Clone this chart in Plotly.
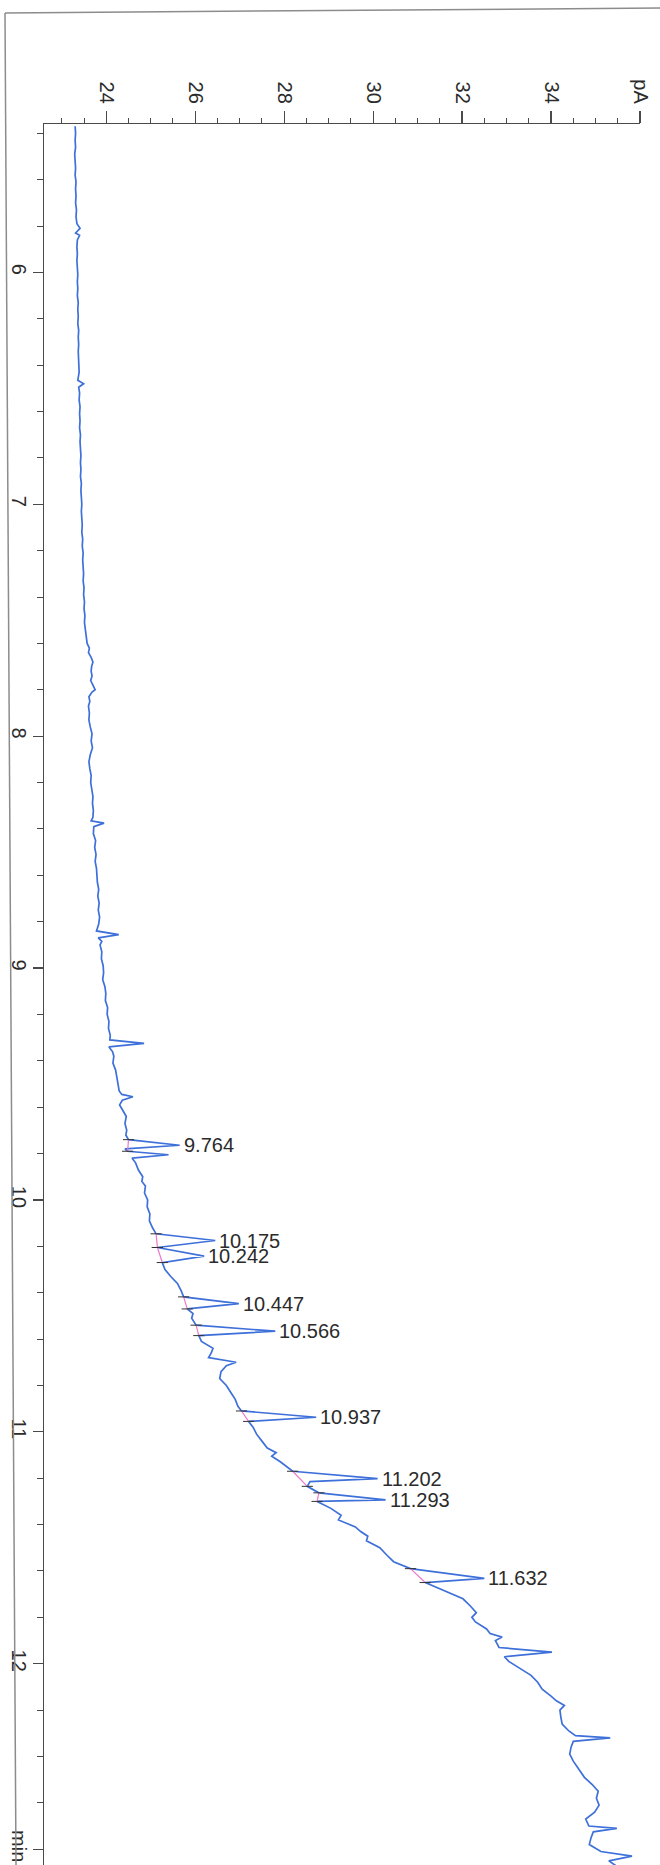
import plotly.graph_objects as go

# ---------------- data ----------------
time_min = [5.37, 5.40, 5.43, 5.46, 5.49, 5.52, 5.55, 5.58, 5.61, 5.64, 5.67, 5.70, 5.73, 5.76, 5.79,
            5.81, 5.82, 5.83, 5.84, 5.86, 5.89, 5.92, 5.95, 5.98, 6.01, 6.04, 6.07, 6.10, 6.13, 6.16,
            6.19, 6.22, 6.25, 6.28, 6.31, 6.34, 6.37, 6.40, 6.43, 6.465, 6.48, 6.495, 6.52, 6.55, 6.58,
            6.61, 6.64, 6.67, 6.70, 6.73, 6.76, 6.79, 6.82, 6.85, 6.88, 6.91, 6.94, 6.97, 7.00, 7.03,
            7.06, 7.09, 7.12, 7.15, 7.18, 7.21, 7.24, 7.27, 7.30, 7.33, 7.36, 7.39, 7.42, 7.45, 7.48,
            7.51, 7.54, 7.57, 7.60, 7.62, 7.64, 7.66, 7.68, 7.70, 7.72, 7.74, 7.76, 7.78, 7.80, 7.81,
            7.83, 7.85, 7.87, 7.90, 7.93, 7.96, 7.99, 8.02, 8.05, 8.08, 8.11, 8.14, 8.17, 8.20, 8.23,
            8.26, 8.29, 8.32, 8.35, 8.365, 8.375, 8.39, 8.42, 8.45, 8.48, 8.51, 8.54, 8.57, 8.60, 8.63,
            8.66, 8.69, 8.72, 8.75, 8.78, 8.81, 8.84, 8.856, 8.87, 8.885, 8.90, 8.93, 8.96, 8.99, 9.02,
            9.05, 9.08, 9.11, 9.14, 9.17, 9.20, 9.23, 9.26, 9.29, 9.31, 9.325, 9.34, 9.36, 9.38, 9.41,
            9.44, 9.47, 9.50, 9.53, 9.545, 9.555, 9.57, 9.59, 9.61, 9.64, 9.67, 9.70, 9.72, 9.74, 9.764,
            9.78, 9.79, 9.805, 9.82, 9.84, 9.87, 9.90, 9.92, 9.94, 9.97, 10.00, 10.03, 10.06, 10.09, 10.12,
            10.146, 10.175, 10.205, 10.242, 10.27, 10.30, 10.33, 10.36, 10.39, 10.418, 10.447, 10.47, 10.49, 10.51, 10.54,
            10.566, 10.585, 10.61, 10.64, 10.66, 10.68, 10.70, 10.715, 10.74, 10.77, 10.80, 10.83, 10.86, 10.89, 10.91,
            10.937, 10.955, 10.98, 11.01, 11.04, 11.07, 11.09, 11.105, 11.13, 11.15, 11.17, 11.202, 11.215, 11.235, 11.25,
            11.263, 11.293, 11.30, 11.33, 11.36, 11.38, 11.41, 11.43, 11.45, 11.47, 11.50, 11.53, 11.56, 11.59, 11.632,
            11.65, 11.68, 11.70, 11.72, 11.75, 11.78, 11.80, 11.82, 11.85, 11.87, 11.885, 11.90, 11.93, 11.95, 11.97,
            11.99, 12.02, 12.05, 12.08, 12.11, 12.14, 12.16, 12.18, 12.20, 12.23, 12.26, 12.29, 12.31, 12.32, 12.335,
            12.36, 12.39, 12.42, 12.46, 12.49, 12.52, 12.55, 12.58, 12.61, 12.64, 12.67, 12.70, 12.71, 12.725, 12.75,
            12.78, 12.81, 12.83, 12.85, 12.87]

signal_pA = [23.30, 23.31, 23.30, 23.31, 23.29, 23.30, 23.31, 23.30, 23.32, 23.31, 23.32, 23.31, 23.33, 23.32, 23.34,
             23.41, 23.36, 23.31, 23.40, 23.35, 23.34, 23.35, 23.34, 23.35, 23.36, 23.35, 23.36, 23.35, 23.37, 23.36,
             23.37, 23.36, 23.38, 23.37, 23.38, 23.37, 23.38, 23.38, 23.39, 23.36, 23.49, 23.38, 23.40, 23.39, 23.41,
             23.40, 23.41, 23.40, 23.42, 23.41, 23.42, 23.43, 23.42, 23.43, 23.42, 23.44, 23.43, 23.44, 23.45, 23.44,
             23.45, 23.46, 23.45, 23.47, 23.46, 23.48, 23.47, 23.48, 23.49, 23.48, 23.50, 23.49, 23.51, 23.50, 23.52,
             23.51, 23.53, 23.55, 23.57, 23.62, 23.60, 23.66, 23.70, 23.67, 23.66, 23.68, 23.65, 23.70, 23.75, 23.68,
             23.61, 23.63, 23.60, 23.62, 23.61, 23.64, 23.68, 23.66, 23.69, 23.64, 23.61, 23.63, 23.66, 23.65, 23.68,
             23.70, 23.69, 23.71, 23.70, 23.66, 23.95, 23.72, 23.71, 23.76, 23.74, 23.77, 23.75, 23.78, 23.79, 23.80,
             23.83, 23.81, 23.84, 23.82, 23.85, 23.83, 23.78, 24.28, 23.82, 23.90, 23.86, 23.90, 23.89, 23.93, 23.94,
             23.92, 23.97, 23.99, 23.98, 24.03, 24.02, 24.06, 24.05, 24.09, 24.08, 24.85, 24.06, 24.14, 24.17, 24.15,
             24.21, 24.24, 24.27, 24.29, 24.35, 24.60, 24.36, 24.30, 24.36, 24.45, 24.42, 24.46, 24.44, 24.50, 25.65,
             24.42, 24.48, 25.40, 24.58, 24.66, 24.72, 24.82, 24.80, 24.88, 24.86, 24.93, 24.92, 24.98, 24.97, 25.04,
             25.12, 26.45, 25.15, 26.20, 25.26, 25.32, 25.45, 25.60, 25.68, 25.74, 26.98, 25.82, 25.95, 25.92, 26.02,
             27.80, 26.08, 26.14, 26.40, 26.36, 26.30, 26.92, 26.70, 26.58, 26.55, 26.70, 26.80, 26.90, 26.96, 27.04,
             28.72, 27.20, 27.30, 27.38, 27.50, 27.62, 27.82, 27.72, 27.92, 28.05, 28.19, 30.10, 28.58, 28.52, 28.68,
             28.78, 30.28, 28.74, 29.05, 29.28, 29.22, 29.60, 29.72, 29.88, 29.85, 30.15, 30.30, 30.46, 30.84, 32.50,
             31.17, 31.55, 31.78, 32.02, 32.18, 32.32, 32.22, 32.30, 32.55, 32.63, 32.90, 32.75, 32.83, 34.02, 32.95,
             33.05, 33.30, 33.55, 33.70, 33.80, 34.00, 34.12, 34.30, 34.20, 34.22, 34.25, 34.40, 34.55, 35.33, 34.50,
             34.45, 34.42, 34.50, 34.65, 34.75, 34.92, 35.06, 35.02, 35.08, 34.98, 34.78, 34.85, 35.48, 34.95, 34.90,
             34.86, 35.12, 35.82, 35.30, 35.45]

# integrated peaks: retention time label, apex signal, baseline start / end
peak_rt = [9.764, 10.175, 10.242, 10.447, 10.566, 10.937, 11.202, 11.293, 11.632]
peak_labels = ["9.764", "10.175", "10.242", "10.447", "10.566", "10.937", "11.202", "11.293", "11.632"]
peak_apex_pA = [25.65, 26.45, 26.20, 26.98, 27.80, 28.72, 30.10, 30.28, 32.50]
base_start_t = [9.74, 10.146, 10.205, 10.418, 10.54, 10.91, 11.17, 11.263, 11.59]
base_start_pA = [24.50, 25.12, 25.15, 25.74, 26.02, 27.04, 28.19, 28.78, 30.84]
base_end_t = [9.79, 10.205, 10.27, 10.47, 10.585, 10.955, 11.235, 11.30, 11.65]
base_end_pA = [24.48, 25.15, 25.26, 25.82, 26.08, 27.20, 28.52, 28.74, 31.17]

x_tickvals = [24, 26, 28, 30, 32, 34, 36]
x_ticktext = ["24", "26", "28", "30", "32", "34", "pA"]
y_tickvals = [6, 7, 8, 9, 10, 11, 12, 12.8]
y_ticktext = ["6", "7", "8", "9", "10", "11", "12", "min"]

# ---------------- figure ----------------
W, H = 660, 1865
ML, MR, MT, MB = 44, 20, 124, 0
FONT = "Liberation Sans, Arial, sans-serif"
TXT = "#2b2b2b"
AX = "#4a4a4a"

fig = go.Figure()

fig.add_trace(go.Scatter(
    x=signal_pA, y=time_min, mode="lines",
    line=dict(color="rgb(62,112,218)", width=1.7),
    hoverinfo="skip", showlegend=False))

# baselines of integrated peaks (pink) and their start/end ticks
bx, by = [], []
for s_t, s_p, e_t, e_p in zip(base_start_t, base_start_pA, base_end_t, base_end_pA):
    bx += [s_p, e_p, None]
    by += [s_t, e_t, None]
fig.add_trace(go.Scatter(x=bx, y=by, mode="lines",
                         line=dict(color="rgb(235,120,205)", width=1.2),
                         hoverinfo="skip", showlegend=False))
fig.add_trace(go.Scatter(x=base_start_pA + base_end_pA, y=base_start_t + base_end_t, mode="markers",
                         marker=dict(symbol="line-ew", size=8, line=dict(color="#333", width=1)),
                         hoverinfo="skip", showlegend=False))

for rt, lab, ap in zip(peak_rt, peak_labels, peak_apex_pA):
    fig.add_annotation(x=ap, y=rt, text=lab, showarrow=False, xanchor="left", yanchor="middle",
                       xshift=2, font=dict(family=FONT, size=20, color=TXT))

minor_x = [v / 2 for v in range(46, 72) if v % 4 != 0]
minor_y = [round(5.4 + 0.2 * i, 1) for i in range(38)]
minor_y = [v for v in minor_y if abs(v - round(v)) > 1e-6 and v <= 12.8]

fig.update_xaxes(
    side="top", range=[22.6, 36.0], showgrid=False, zeroline=False,
    showline=True, linecolor=AX, linewidth=1.2,
    tickmode="array", tickvals=x_tickvals, ticktext=x_ticktext,
    ticks="outside", ticklen=12, tickwidth=1.2, tickcolor=AX, tickangle=90,
    tickfont=dict(family=FONT, size=20, color=TXT),
    minor=dict(tickmode="array", tickvals=minor_x, ticks="outside", ticklen=5, tickwidth=1, tickcolor=AX),
)
fig.update_yaxes(
    range=[12.868, 5.36], showgrid=False, zeroline=False,
    showline=True, linecolor=AX, linewidth=1.2,
    tickmode="array", tickvals=y_tickvals, ticktext=y_ticktext,
    ticks="outside", ticklen=10, tickwidth=1.2, tickcolor=AX, tickangle=90,
    ticklabelstandoff=-3,
    tickfont=dict(family=FONT, size=20, color=TXT),
    minor=dict(tickmode="array", tickvals=minor_y, ticks="outside", ticklen=6, tickwidth=1, tickcolor=AX),
)

pw, ph = W - ML - MR, H - MT - MB
def px(xp): return (xp - ML) / pw
def py(yp): return 1 - (yp - MT) / ph

# outer page frame of the scanned report
fig.add_shape(type="line", xref="paper", yref="paper", x0=px(5), y0=py(13), x1=px(662), y1=py(8),
              line=dict(color="#8c8c8c", width=1.5))
fig.add_shape(type="line", xref="paper", yref="paper", x0=px(5), y0=py(13), x1=px(16), y1=py(1866),
              line=dict(color="#8c8c8c", width=1.5))

fig.update_layout(
    width=W, height=H, autosize=False,
    margin=dict(l=ML, r=MR, t=MT, b=MB),
    paper_bgcolor="white", plot_bgcolor="white",
    font=dict(family=FONT, color=TXT),
)

fig.write_html("out.html",
               config={"displayModeBar": False, "staticPlot": True},
               post_script="document.body.style.margin='0';document.body.style.padding='0';"
                           "document.documentElement.style.overflow='hidden';")
